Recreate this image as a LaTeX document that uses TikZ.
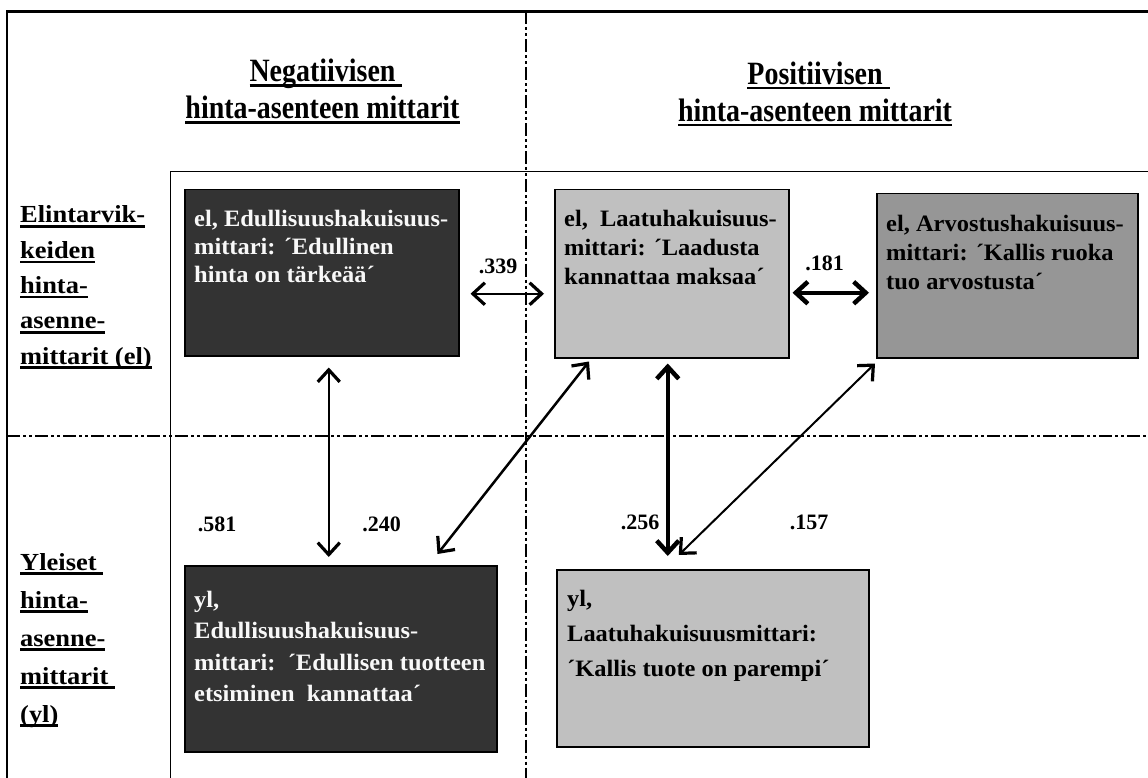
\documentclass[tikz,border=0pt]{standalone}
\usepackage{fontspec}
\setmainfont{Liberation Serif}
\newfontfamily\headfont{Liberation Serif}[FakeStretch=0.86]
\newfontfamily\boxfont{Liberation Serif}[FakeStretch=1.04]
\newfontfamily\labelfont{Liberation Serif}[FakeStretch=1.08]
\usetikzlibrary{arrows.meta}
\definecolor{boxdark}{HTML}{333333}
\definecolor{boxlight}{HTML}{C0C0C0}
\definecolor{boxmid}{HTML}{969696}
\definecolor{textlight}{HTML}{F8F8F8}
% thick underline placed under a piece of text
\newcommand\ulbar[1]{\setbox0\hbox{#1}\rlap{\rule[-5pt]{\wd0}{2.6pt}}\box0}
\tikzset{
  frameline/.style={line width=2.5pt, line cap=butt},
  innerline/.style={line width=1.8pt, line cap=butt},
  divider/.style={line width=2.7pt, dash pattern=on 13pt off 3pt on 3pt off 3pt on 3pt off 3pt},
  measure/.style={draw=black, line width=1.5pt, anchor=north west, inner sep=0pt},
  boxtext/.style={anchor=base west, align=left, inner sep=0pt},
  rowlabel/.style={anchor=base west, align=left, inner sep=0pt},
  colhead/.style={anchor=base, inner sep=0pt, font=\headfont\bfseries\fontsize{32.5}{37}\selectfont},
  coef/.style={anchor=base, inner sep=0pt, font=\bfseries\fontsize{22}{26}\selectfont},
  corr/.style={line width=2pt,
    {Straight Barb[length=12pt,width=22pt,line width=3.2pt]}-{Straight Barb[length=12pt,width=22pt,line width=3.2pt]}},
  corrthick/.style={line width=4.5pt,
    {Straight Barb[length=12pt,width=22pt,line width=4.5pt]}-{Straight Barb[length=12pt,width=22pt,line width=4.5pt]}}
}
\begin{document}
\begin{tikzpicture}[x=1pt,y=-1pt]
\useasboundingbox (0,0) rectangle (1148,778);
\fill[white] (0,0) rectangle (1148,778);

% frames
\draw[frameline] (1148,11.5) -- (7,11.5) -- (7,778);
\draw[innerline] (1148,171.5) -- (170.5,171.5) -- (170.5,778);

% quadrant dividers
\draw[divider] (526,11.5) -- (526,778);
\draw[divider] (7,436) -- (1148,436);

% column headings
\node[colhead] (hneg1) at (326,82) {\ulbar{Negatiivisen\ }};
\node[colhead] (hneg2) at (322.5,119) {\ulbar{hinta-asenteen mittarit}};
\node[colhead] (hpos1) at (818.5,84.5) {\ulbar{Positiivisen\ }};
\node[colhead] (hpos2) at (815,121.5) {\ulbar{hinta-asenteen mittarit}};

% row headings (node placed at the baseline of the last line)
\node[rowlabel, font=\labelfont\bfseries\fontsize{24.5}{35.3}\selectfont] (rel) at (20,364)
  {\ulbar{Elintarvik-}\\ \ulbar{keiden}\\ \ulbar{hinta-}\\ \ulbar{asenne-}\\ \ulbar{mittarit (el)}};
\node[rowlabel, font=\labelfont\bfseries\fontsize{24.5}{38}\selectfont] (ryl) at (20,722)
  {\ulbar{Yleiset\ }\\ \ulbar{hinta-}\\ \ulbar{asenne-}\\ \ulbar{mittarit\ }\\ \ulbar{(yl)}};

% measure boxes
\node[measure, fill=boxdark,  minimum width=274pt, minimum height=166pt] (b1) at (184,189) {};
\node[measure, fill=boxlight, minimum width=234pt, minimum height=168pt] (b2) at (554,189) {};
\node[measure, fill=boxmid,   minimum width=261pt, minimum height=164pt] (b3) at (876,193) {};
\node[measure, fill=boxdark,  minimum width=312pt, minimum height=186pt] (b4) at (184,565) {};
\node[measure, fill=boxlight, minimum width=312pt, minimum height=177pt] (b5) at (556,569) {};

% box texts (node placed at the baseline of the last line)
\node[boxtext, text=textlight, font=\boxfont\bfseries\fontsize{23.5}{28}\selectfont] (t1) at (194,282)
  {el, Edullisuushakuisuus-\\ mittari: ´Edullinen\\ hinta on tärkeää´};
\node[boxtext, font=\boxfont\bfseries\fontsize{23.5}{29}\selectfont] (t2) at (564,284)
  {el,\ \ Laatuhakuisuus-\\ mittari: ´Laadusta\\ kannattaa maksaa´};
\node[boxtext, font=\boxfont\bfseries\fontsize{23.5}{29}\selectfont] (t3) at (886,289)
  {el, Arvostushakuisuus-\\ mittari: ´Kallis ruoka\\ tuo arvostusta´};
\node[boxtext, text=textlight, font=\boxfont\bfseries\fontsize{23.5}{31.5}\selectfont] (t4) at (194,701.5)
  {yl,\\ Edullisuushakuisuus-\\ mittari:\ \ ´Edullisen tuotteen\\ etsiminen\ \ kannattaa´};
\node[boxtext, font=\boxfont\bfseries\fontsize{23.5}{35}\selectfont] (t5) at (567,676)
  {yl,\\ Laatuhakuisuusmittari:\\ ´Kallis tuote on parempi´};

% correlations
\draw[corr] ([xshift=11pt,yshift=-21pt]b1.east) -- ([xshift=-10pt,yshift=-20pt]b2.west);
\draw[corrthick] ([xshift=3pt,yshift=-19pt]b2.east) -- ([xshift=-7pt,yshift=-17pt]b3.west);
\draw[corr] ([xshift=7pt,yshift=-11pt]b1.south) -- ([xshift=-12pt,yshift=8pt]b4.north);
\draw[corr, line width=2.5pt] ([xshift=35pt,yshift=-3pt]b2.south west) -- ([xshift=-60pt,yshift=11pt]b4.north east);
\draw[corrthick] ([xshift=-4pt,yshift=-5pt]b2.south) -- ([xshift=-45pt,yshift=13pt]b5.north);
\draw[corr] ([xshift=-1pt,yshift=-5pt]b3.south west) -- ([xshift=-34pt,yshift=14pt]b5.north);

% coefficients
\node[coef] (c339) at (498,273) {.339};
\node[coef] (c181) at (824.5,270) {.181};
\node[coef] (c581) at (217,531) {.581};
\node[coef] (c240) at (381.5,531) {.240};
\node[coef] (c256) at (640,529) {.256};
\node[coef] (c157) at (809,529) {.157};
\end{tikzpicture}
\end{document}
